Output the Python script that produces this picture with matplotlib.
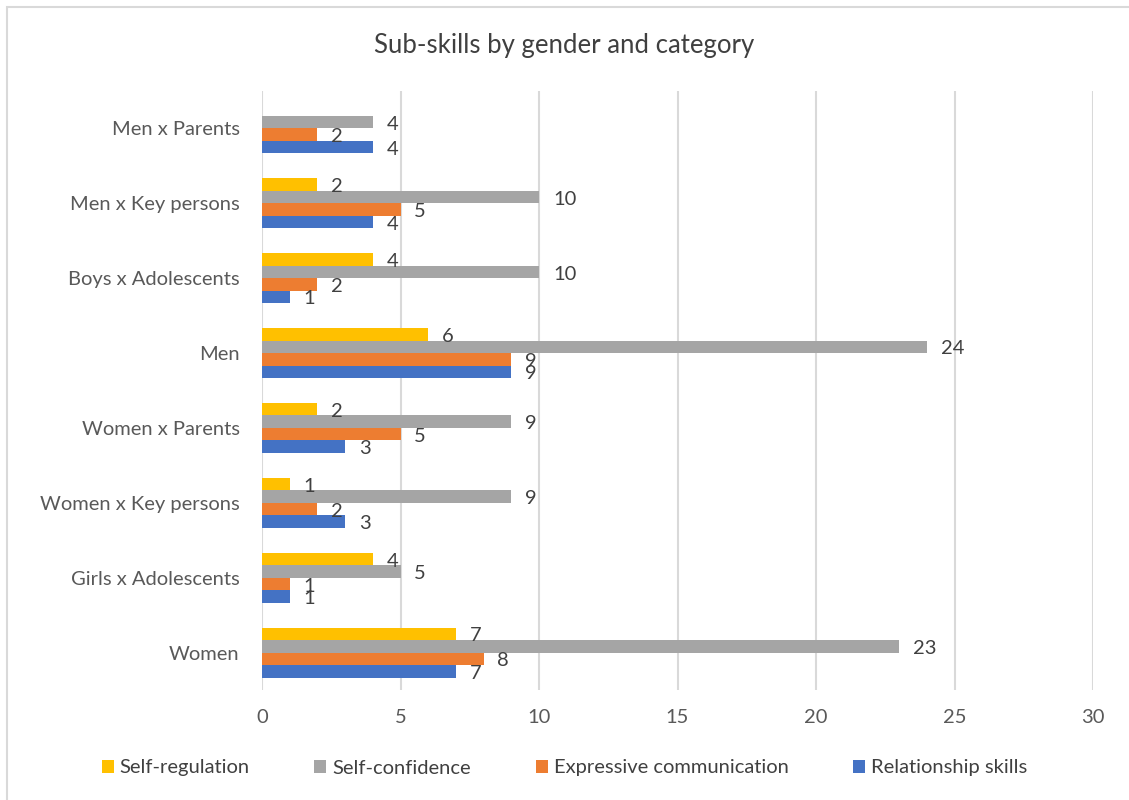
import numpy as np
import matplotlib.pyplot as plt
from matplotlib.patches import Rectangle

plt.rcParams['font.family'] = ['Lato', 'DejaVu Sans']

# Categories from bottom to top
categories = ['Women', 'Girls x Adolescents', 'Women x Key persons', 'Women x Parents',
              'Men', 'Boys x Adolescents', 'Men x Key persons', 'Men x Parents']

relationship = [7, 1, 3, 3, 9, 1, 4, 4]
expressive = [8, 1, 2, 5, 9, 2, 5, 2]
confidence = [23, 5, 9, 9, 24, 10, 10, 4]
regulation = [7, 4, 1, 2, 6, 4, 2, None]   # no value for Men x Parents

series = [
    ('Relationship skills', relationship, '#4472C4'),
    ('Expressive communication', expressive, '#ED7D31'),
    ('Self-confidence', confidence, '#A5A5A5'),
    ('Self-regulation', regulation, '#FFC000'),
]

fig = plt.figure(figsize=(11.29, 8), dpi=100)
fig.patches.append(Rectangle((7 / 1129, -0.01), 1.02, 1 - 7 / 800 + 0.01,
                             transform=fig.transFigure, fill=False,
                             edgecolor='#d9d9d9', linewidth=1.5))

ax = fig.add_axes([262 / 1129, 1 - 690 / 800, (1093 - 262) / 1129, 599 / 800])

h = 1 / 6
y = np.arange(len(categories))
handles = {}
for i, (name, vals, color) in enumerate(series):
    off = (i - 1.5) * h
    for yi, v in zip(y, vals):
        if v is None:
            continue
        b = ax.barh(yi + off, v, height=h, color=color, zorder=2)
        handles[name] = b
        ax.annotate(str(v), (v, yi + off), xytext=(10, -1.5), textcoords='offset points',
                    va='center', ha='left', fontsize=14.5, color='#404040')

ax.set_xlim(0, 30)
ax.set_ylim(-0.5, len(categories) - 0.5)
ax.set_xticks(range(0, 31, 5))
ax.set_yticks(y)
ax.set_yticklabels(categories)
ax.grid(axis='x', color='#d9d9d9', linewidth=1.5, zorder=0)
ax.set_axisbelow(True)
for s in ax.spines.values():
    s.set_visible(False)
ax.tick_params(length=0, labelsize=14.5, colors='#595959')
ax.tick_params(axis='y', pad=16)
ax.tick_params(axis='x', pad=14)

fig.text(0.5, 1 - 45 / 800, 'Sub-skills by gender and category', ha='center', va='center',
         fontsize=18.5, color='#404040')

order = ['Self-regulation', 'Self-confidence', 'Expressive communication', 'Relationship skills']
fig.legend([handles[n] for n in order], order, loc='center', bbox_to_anchor=(0.5, 1 - 768 / 800),
           ncol=4, frameon=False, fontsize=14.5, handlelength=0.6, handleheight=0.6,
           handletextpad=0.3, columnspacing=3.2, labelcolor='#404040')

fig.savefig('out.png', dpi=100)
